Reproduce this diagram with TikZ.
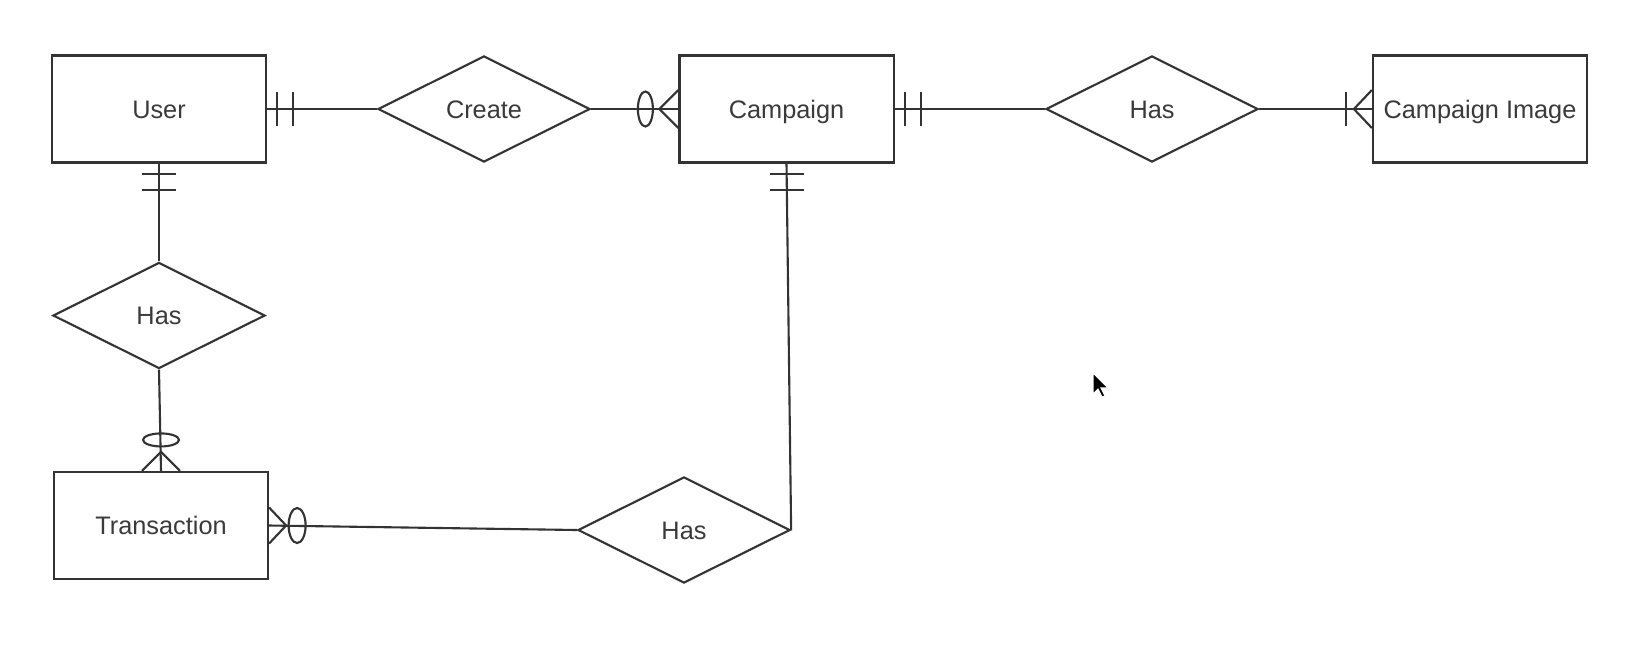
\documentclass[tikz,border=0pt]{standalone}
\usepackage{fontspec}
\setmainfont{Liberation Sans}
\usetikzlibrary{shapes.geometric}
\definecolor{linegray}{HTML}{333333}
\definecolor{textgray}{HTML}{3A3A3A}

\begin{document}
\begin{tikzpicture}[x=0.01cm,y=0.01cm,
    entity/.style={draw=linegray,line width=0.6pt,minimum width=2.14cm,minimum height=1.07cm,inner sep=0pt,text height=5.2pt,text depth=0pt,text=textgray,font=\fontsize{7.2}{8.6}\selectfont},
    relation/.style={draw=linegray,line width=0.6pt,diamond,minimum width=2.12cm,minimum height=1.06cm,inner sep=0pt,text height=5.2pt,text depth=0pt,text=textgray,font=\fontsize{7.2}{8.6}\selectfont},
    conn/.style={draw=linegray,line width=0.6pt}]
    \fill [white] (0,0) rectangle (1640,-654);
    \useasboundingbox (0,0) rectangle (1640,-654);
    % entities and relations
    \node [entity] (user) at (159,-109) {User};
    \node [relation] (create) at (484,-109) {Create};
    \node [entity] (campaign) at (786.5,-109) {Campaign};
    \node [relation] (hasimg) at (1152,-109) {Has};
    \node [entity] (image) at (1480,-109) {Campaign Image};
    \node [relation] (hastrx) at (159,-315.5) {Has};
    \node [entity] (transaction) at (161,-525.5) {Transaction};
    \node [relation] (haspay) at (684,-530) {Has};
    % connectors
    \draw [conn] (user.east) -- (create.west);
    \draw [conn] (create.east) -- (campaign.west);
    \draw [conn] (campaign.east) -- (hasimg.west);
    \draw [conn] (hasimg.east) -- (image.west);
    \draw [conn] (user.south) -- (hastrx.north);
    \draw [conn] (hastrx.south) -- (transaction.north);
    \draw [conn] (transaction.east) -- (haspay.west);
    \draw [conn] (campaign.south) -- (haspay.east);
    % user -- create
    \draw [conn] ([shift={(10,17)}]user.east) -- ++(0,-34);
    \draw [conn] ([shift={(26,17)}]user.east) -- ++(0,-34);
    \draw [conn] ([shift={(-33,0)}]campaign.west) ellipse (7.5 and 17.5);
    \draw [conn] ([shift={(0,19)}]campaign.west) -- ([shift={(-19,0)}]campaign.west) -- ([shift={(0,-19)}]campaign.west);
    % campaign -- campaign image
    \draw [conn] ([shift={(10,17)}]campaign.east) -- ++(0,-34);
    \draw [conn] ([shift={(26,17)}]campaign.east) -- ++(0,-34);
    \draw [conn] ([shift={(-26,17)}]image.west) -- ++(0,-34);
    \draw [conn] ([shift={(0,19)}]image.west) -- ([shift={(-18,0)}]image.west) -- ([shift={(0,-19)}]image.west);
    % user -- transaction
    \draw [conn] ([shift={(-17,-10)}]user.south) -- ++(34,0);
    \draw [conn] ([shift={(-17,-26)}]user.south) -- ++(34,0);
    \draw [conn] ([shift={(0,31)}]transaction.north) ellipse (18 and 6.5);
    \draw [conn] ([shift={(-19,0)}]transaction.north) -- ([shift={(0,19)}]transaction.north) -- ([shift={(19,0)}]transaction.north);
    % transaction -- campaign
    \draw [conn] ([shift={(0,18)}]transaction.east) -- ([shift={(17,0)}]transaction.east) -- ([shift={(0,-18)}]transaction.east);
    \draw [conn] ([shift={(28,0)}]transaction.east) ellipse (8.5 and 17.5);
    \draw [conn] ([shift={(-17,-10)}]campaign.south) -- ++(34,0);
    \draw [conn] ([shift={(-17,-26)}]campaign.south) -- ++(34,0);
    % mouse pointer
    \filldraw [black, draw=white, line width=0.3pt] (1093,-373) -- ++(0,-21) -- ++(5,5) -- ++(4,-8) -- ++(3,1) -- ++(-4,8) -- ++(7,0) -- cycle;
\end{tikzpicture}
\end{document}
